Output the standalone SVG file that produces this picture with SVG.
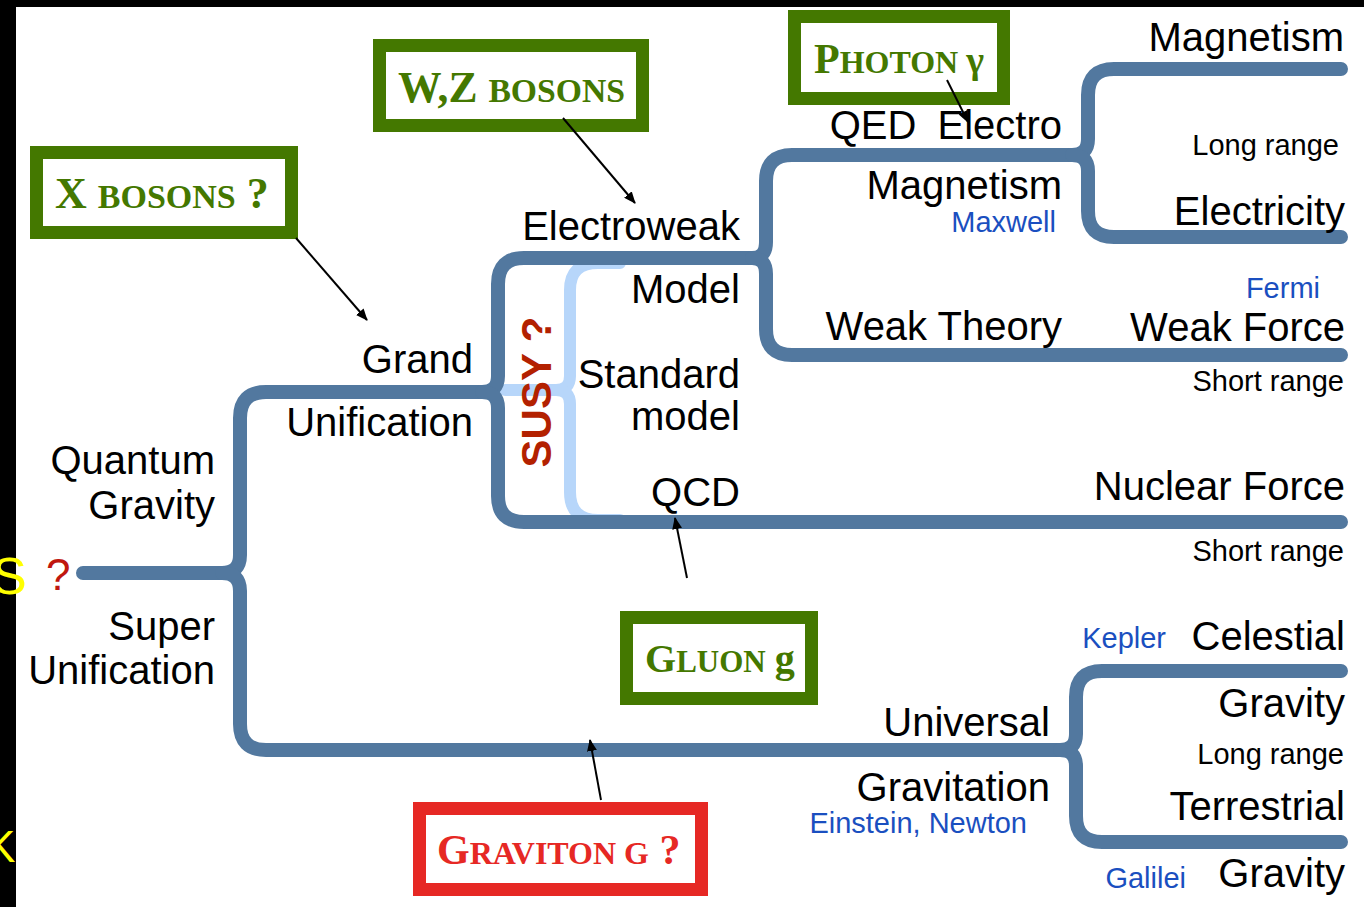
<svg xmlns="http://www.w3.org/2000/svg" width="1364" height="907" viewBox="0 0 1364 907">
<defs>
<style>
.br{fill:none;stroke:#52789f;stroke-width:14;stroke-linecap:round;stroke-linejoin:round}
.lb{fill:none;stroke:#b7d6fa;stroke-width:12;stroke-linecap:round}
.t{font-family:"Liberation Sans",Arial,sans-serif;font-size:40px;fill:#000;text-anchor:end}
.s{font-family:"Liberation Sans",Arial,sans-serif;font-size:29px;fill:#000;text-anchor:end}
.b{font-family:"Liberation Sans",Arial,sans-serif;font-size:29px;fill:#1a4fc0;text-anchor:end}
.box{fill:#fff;stroke:#447800;stroke-width:13}
.rbox{fill:#fff;stroke:#e62824;stroke-width:13}
.bt{font-family:"Liberation Serif","Times New Roman",serif;font-weight:bold;fill:#447800}
.rt{font-family:"Liberation Serif","Times New Roman",serif;font-weight:bold;fill:#e62824}
.ar{stroke:#000;stroke-width:2;fill:none}
.y{font-family:"Liberation Sans",Arial,sans-serif;fill:#ffff00}
</style>
<marker id="ah" markerUnits="userSpaceOnUse" markerWidth="12" markerHeight="10" refX="11" refY="5" orient="auto">
<path d="M0,0 L12,5 L0,10 z" fill="#000"/>
</marker>
</defs>
<rect x="0" y="0" width="1364" height="907" fill="#000"/>
<rect x="16" y="7" width="1348" height="900" fill="#fff"/>
<text class="y" x="-8" y="594" font-size="52">S</text>
<text class="y" x="-14" y="862" font-size="44">K</text>

<g id="connectors">
<path class="lb" d="M505 390 L556 390 Q570 390 570 376 L570 290 Q570 263 598 263 L620 263"/>
<path class="lb" d="M556 390 Q570 390 570 404 L570 492 Q570 520 598 520 L620 520"/>
<path class="br" d="M83 573 L222 573 Q240 573 240 555 L240 418 Q240 392 266 392 L482 392"/>
<path class="br" d="M222 573 Q240 573 240 591 L240 724 Q240 750 266 750 L1060 750"/>
<path class="br" d="M482 392 Q498 392 498 376 L498 284 Q498 258 524 258 L752 258"/>
<path class="br" d="M482 392 Q498 392 498 408 L498 496 Q498 522 524 522 L1341 522"/>
<path class="br" d="M752 258 Q766 258 766 242 L766 181 Q766 155 792 155 L1072 155"/>
<path class="br" d="M752 258 Q766 258 766 274 L766 329 Q766 355 792 355 L1341 355"/>
<path class="br" d="M1072 155 Q1088 155 1088 139 L1088 95 Q1088 69 1114 69 L1341 69"/>
<path class="br" d="M1072 155 Q1088 155 1088 171 L1088 211 Q1088 237 1114 237 L1341 237"/>
<path class="br" d="M1060 750 Q1076 750 1076 734 L1076 697 Q1076 671 1102 671 L1341 671"/>
<path class="br" d="M1060 750 Q1076 750 1076 766 L1076 816 Q1076 842 1102 842 L1341 842"/>
</g>

<g id="susy">
<text transform="translate(551,392) rotate(-90)" text-anchor="middle" font-family="Liberation Sans,Arial,sans-serif" font-weight="bold" font-size="42" fill="#b32100">SUSY ?</text>
</g>

<g id="root"><text x="46" y="590" font-family="Liberation Sans,Arial,sans-serif" font-size="44" fill="#c0170f">?</text></g>
<g id="quantum-gravity"><text class="t" x="215" y="474">Quantum</text><text class="t" x="215" y="519">Gravity</text></g>
<g id="super-unification"><text class="t" x="215" y="640">Super</text><text class="t" x="215" y="684">Unification</text></g>
<g id="grand-unification"><text class="t" x="473" y="373">Grand</text><text class="t" x="473" y="436">Unification</text></g>
<g id="electroweak"><text class="t" x="740" y="240">Electroweak</text><text class="t" x="740" y="303">Model</text></g>
<g id="standard-model"><text class="t" x="740" y="388">Standard</text><text class="t" x="740" y="430">model</text></g>
<g id="qcd"><text class="t" x="740" y="506">QCD</text></g>
<g id="qed"><text class="t" x="1062" y="139">QED<tspan dx="10"> Electro</tspan></text><text class="t" x="1062" y="199">Magnetism</text><text class="b" x="1056" y="232">Maxwell</text></g>
<g id="weak-theory"><text class="t" x="1062" y="340">Weak Theory</text></g>
<g id="magnetism"><text class="t" x="1344" y="51">Magnetism</text><text class="s" x="1339" y="155">Long range</text></g>
<g id="electricity"><text class="t" x="1345" y="225">Electricity</text></g>
<g id="weak-force"><text class="b" x="1320" y="298">Fermi</text><text class="t" x="1345" y="341">Weak Force</text><text class="s" x="1344" y="391">Short range</text></g>
<g id="nuclear-force"><text class="t" x="1345" y="500">Nuclear Force</text><text class="s" x="1344" y="561">Short range</text></g>
<g id="universal-gravitation"><text class="t" x="1050" y="736">Universal</text><text class="t" x="1050" y="801">Gravitation</text><text class="b" x="1027" y="833">Einstein, Newton</text></g>
<g id="celestial-gravity"><text class="b" x="1166" y="648">Kepler</text><text class="t" x="1345" y="650">Celestial</text><text class="t" x="1345" y="717">Gravity</text><text class="s" x="1344" y="764">Long range</text></g>
<g id="terrestrial-gravity"><text class="t" x="1345" y="820">Terrestrial</text><text class="b" x="1186" y="888">Galilei</text><text class="t" x="1345" y="887">Gravity</text></g>

<g id="x-bosons">
<rect class="box" x="36.5" y="152.5" width="255" height="80"/>
<text class="bt" x="55" y="208"><tspan font-size="44">X </tspan><tspan font-size="34">BOSONS</tspan><tspan font-size="44"> ?</tspan></text>
</g>
<g id="wz-bosons">
<rect class="box" x="379.5" y="45.5" width="263" height="80"/>
<text class="bt" x="398" y="102" textLength="227" lengthAdjust="spacingAndGlyphs"><tspan font-size="44">W,Z </tspan><tspan font-size="34">BOSONS</tspan></text>
</g>
<g id="photon">
<rect class="box" x="794.5" y="16.5" width="209" height="82"/>
<text class="bt" x="814" y="73"><tspan font-size="42">P</tspan><tspan font-size="32">HOTON</tspan><tspan font-size="38" dx="8">γ</tspan></text>
</g>
<g id="gluon">
<rect class="box" x="626.5" y="617.5" width="185" height="81"/>
<text class="bt" x="645" y="672"><tspan font-size="40">G</tspan><tspan font-size="31">LUON</tspan><tspan font-size="40" dx="9">g</tspan></text>
</g>
<g id="graviton">
<rect class="rbox" x="419.5" y="808.5" width="282" height="81"/>
<text class="rt" x="437" y="864"><tspan font-size="42">G</tspan><tspan font-size="32">RAVITON G</tspan><tspan font-size="42"> ?</tspan></text>
</g>

<g id="arrows">
<line class="ar" x1="296" y1="238" x2="367" y2="320" marker-end="url(#ah)"/>
<line class="ar" x1="563" y1="118" x2="635" y2="203" marker-end="url(#ah)"/>
<line class="ar" x1="947" y1="80" x2="968" y2="122" marker-end="url(#ah)"/>
<line class="ar" x1="687" y1="578" x2="675" y2="518" marker-end="url(#ah)"/>
<line class="ar" x1="601" y1="800" x2="590" y2="740" marker-end="url(#ah)"/>
</g>
</svg>
